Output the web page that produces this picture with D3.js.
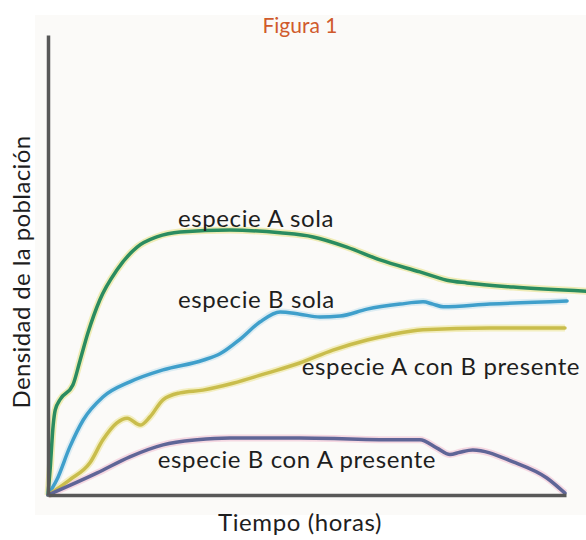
<!DOCTYPE html>
<html>
<head>
<meta charset="utf-8">
<script src="https://cdn.jsdelivr.net/npm/d3@7"></script>
<style>
  html, body { margin: 0; padding: 0; background: #fff; }
  text { font-family: Lato, "Open Sans", sans-serif; }
</style>
</head>
<body>
<svg id="chart" width="586" height="540"></svg>
<script>
// [hours, density] (arbitrary units, axis 0-100)
const especieASola = [
  [0, 0], [0.4, 5.4], [1.0, 15.2], [1.4, 18.5], [2.3, 20.7], [4.8, 23.9],
  [6.2, 29.3], [7.7, 35.2], [10.0, 42.4], [13.3, 48.9], [17.2, 53.9],
  [21.0, 56.1], [25.5, 57.2], [35.1, 57.6], [44.8, 57.0], [51.2, 56.1],
  [57.7, 53.9], [64.1, 51.1], [71.8, 48.5], [77.0, 46.7], [80.9, 46.1],
  [89.8, 45.2], [103.9, 44.3]
];
const especieBSola = [
  [0, 0], [1.7, 3.3], [4.2, 10.4], [6.8, 16.3], [10.6, 21.3], [15.8, 24.6],
  [22.2, 27.2], [29.9, 29.3], [33.2, 30.7], [37.1, 33.9], [40.9, 37.6],
  [44.8, 39.8], [48.6, 39.3], [52.5, 38.7], [56.4, 38.9], [61.6, 40.4],
  [68.0, 41.5], [72.4, 42.0], [74.3, 41.5], [76.3, 40.9], [85.3, 41.5],
  [100.2, 42.2]
];
const especieAConB = [
  [0, 0], [4.2, 3.3], [8.1, 7.0], [10.6, 12.0], [13.3, 15.7], [15.3, 16.7],
  [17.8, 15.2], [19.7, 17.0], [22.2, 20.7], [25.5, 22.2], [29.9, 22.8],
  [35.7, 24.3], [42.3, 26.5], [48.6, 28.7], [55.0, 31.5], [61.6, 33.7],
  [66.0, 34.8], [72.4, 35.9], [85.3, 36.3], [99.8, 36.3]
];
const especieBConA = [
  [0, 0], [9.5, 4.8], [15.8, 8.3], [22.2, 10.9], [28.8, 12.0], [35.1, 12.4],
  [48.6, 12.4], [68.0, 12.0], [71.8, 12.0], [75.1, 10.2], [77.6, 8.8],
  [79.5, 9.3], [82.0, 9.8], [89.8, 7.2], [96.3, 3.7], [99.8, 0.4]
];

const seriesNames = ["especie A sola", "especie B sola", "especie A con B presente", "especie B con A presente"];
const seriesValues = [especieASola, especieBSola, especieAConB, especieBConA];
// where each label's left/baseline sits, in data units
const labelAnchors = [[25.1, 58.3], [25.1, 40.7], [49.0, 26.1], [21.2, 5.9]];

const colors = ["#2a8c60", "#3f9fcb", "#c9bd4c", "#5f6597"];
const halos = ["#e9e59a", "#cfe6f0", "#efe8a8", "#f2c9d8"];

const svg = d3.select("#chart");

// light paper panel behind the figure
svg.append("rect")
  .attr("x", 35).attr("y", 15)
  .attr("width", 551).attr("height", 500)
  .attr("fill", "#fbfaf8");

const x = d3.scaleLinear().domain([0, 100]).range([48, 566]);
const y = d3.scaleLinear().domain([0, 100]).range([495, 35]);

const line = d3.line()
  .x(d => x(d[0]))
  .y(d => y(d[1]))
  .curve(d3.curveMonotoneX);

// soft halo under each curve, like the printed original
svg.append("g")
  .selectAll("path")
  .data(seriesValues)
  .join("path")
    .attr("d", line)
    .attr("fill", "none")
    .attr("stroke", (d, i) => halos[i])
    .attr("stroke-width", 7)
    .attr("stroke-linejoin", "round")
    .attr("opacity", 0.7);

svg.append("g")
  .selectAll("path")
  .data(seriesValues)
  .join("path")
    .attr("d", line)
    .attr("fill", "none")
    .attr("stroke", (d, i) => colors[i])
    .attr("stroke-width", 3.5)
    .attr("stroke-linejoin", "round")
    .attr("stroke-linecap", "round");

// axes without ticks
const xAxis = svg.append("g")
  .attr("transform", `translate(0,${y(0)})`)
  .call(d3.axisBottom(x).tickValues([]).tickSizeOuter(0));
const yAxis = svg.append("g")
  .attr("transform", `translate(${x(0)},0)`)
  .call(d3.axisLeft(y).tickValues([]).tickSizeOuter(0));
[xAxis, yAxis].forEach(a => a.select(".domain")
  .attr("stroke", "#585858")
  .attr("stroke-width", 3.5));

svg.append("g")
  .selectAll("text")
  .data(seriesNames)
  .join("text")
    .attr("x", (d, i) => x(labelAnchors[i][0]))
    .attr("y", (d, i) => y(labelAnchors[i][1]))
    .attr("font-size", 24)
    .attr("letter-spacing", 0.6)
    .attr("fill", "#1e1e1e")
    .text(d => d);

svg.append("text")
  .attr("x", 300).attr("y", 33)
  .attr("text-anchor", "middle")
  .attr("font-size", 21)
  .attr("fill", "#d05a2c")
  .text("Figura 1");

svg.append("text")
  .attr("x", 300).attr("y", 531)
  .attr("text-anchor", "middle")
  .attr("font-size", 24)
  .attr("letter-spacing", 0.6)
  .attr("fill", "#1e1e1e")
  .text("Tiempo (horas)");

svg.append("text")
  .attr("transform", "translate(30,272) rotate(-90)")
  .attr("text-anchor", "middle")
  .attr("font-size", 24)
  .attr("letter-spacing", 0.4)
  .attr("fill", "#1e1e1e")
  .text("Densidad de la población");
</script>
</body>
</html>
